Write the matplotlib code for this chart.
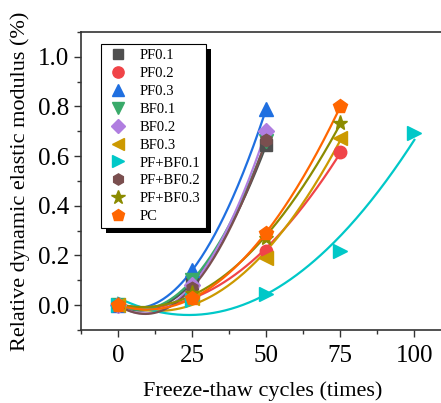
import numpy as np
import matplotlib
matplotlib.use("Agg")
import matplotlib.pyplot as plt
from matplotlib.patches import Rectangle

plt.rcParams['font.family'] = ['Liberation Serif', 'DejaVu Serif']
plt.rcParams['mathtext.fontset'] = 'stix'

labels = ["PF0.1", "PF0.2", "PF0.3", "BF0.1", "BF0.2", "BF0.3",
          "PF+BF0.1", "PF+BF0.2", "PF+BF0.3", "PC"]
x_pf01 = [0, 25, 50];          y_pf01 = [0.0, 0.09, 0.645]
x_pf02 = [0, 25, 50, 75];      y_pf02 = [0.0, 0.04, 0.217, 0.617]
x_pf03 = [0, 25, 50];          y_pf03 = [0.0, 0.14, 0.79]
x_bf01 = [0, 25, 50];          y_bf01 = [0.0, 0.10, 0.66]
x_bf02 = [0, 25, 50];          y_bf02 = [0.0, 0.08, 0.70]
x_bf03 = [0, 25, 50, 75];      y_bf03 = [0.0, 0.03, 0.19, 0.673]
x_pb01 = [0, 25, 50, 75, 100]; y_pb01 = [0.0, 0.02, 0.043, 0.22, 0.695]
x_pb02 = [0, 25, 50];          y_pb02 = [0.0, 0.07, 0.665]
x_pb03 = [0, 25, 50, 75];      y_pb03 = [0.0, 0.05, 0.27, 0.733]
x_pc = [0, 25, 50, 75];        y_pc = [0.0, 0.03, 0.29, 0.80]

xs = [x_pf01, x_pf02, x_pf03, x_bf01, x_bf02, x_bf03, x_pb01, x_pb02, x_pb03, x_pc]
ys = [y_pf01, y_pf02, y_pf03, y_bf01, y_bf02, y_bf03, y_pb01, y_pb02, y_pb03, y_pc]
colors = ["#4f4f4f", "#f04448", "#1f6fe0", "#3aaa6a", "#b07ee0", "#cc9900",
          "#00c8c8", "#7a4f4f", "#8b8b00", "#ff6600"]
markers = ["s", "o", "^", "v", "D", "<", ">", "h", "*", "p"]
msizes = [8, 9, 10, 10, 8, 10, 10, 9, 11, 10]

xticks = [0, 25, 50, 75, 100]
yticks = [0.0, 0.2, 0.4, 0.6, 0.8, 1.0]

fig = plt.figure(figsize=(4.41, 4.03), dpi=100)
ax = fig.add_axes([81/441, 1-330/403, (444-81)/441, (330-32)/403])

for x, y, c in zip(xs, ys, colors):
    coef = np.polyfit(x, y, 2)
    xx = np.linspace(min(x), max(x), 200)
    ax.plot(xx, np.polyval(coef, xx), color=c, lw=1.6, zorder=2)
for x, y, c, m, ms, lab in zip(xs, ys, colors, markers, msizes, labels):
    ax.plot(x, y, linestyle='none', marker=m, ms=ms, color=c, mec=c, label=lab, zorder=3)

ax.set_xlim(-10, 110)
ax.set_ylim(-0.1, 1.1)
ax.set_xticks(xticks)
ax.set_xticklabels([str(t) for t in xticks])
ax.set_yticks(yticks)
ax.set_yticklabels([f"{t:.1f}" for t in yticks])
ax.set_xticks(np.arange(-12.5, 111, 12.5), minor=True)
ax.set_yticks(np.arange(-0.1, 1.11, 0.1), minor=True)
ax.tick_params(axis='both', which='major', direction='out', length=5, width=1, labelsize=18, color='#333333')
ax.tick_params(axis='both', which='minor', direction='out', length=3, width=1, color='#333333')
ax.tick_params(axis='x', pad=6)
for s in ['left', 'bottom', 'top', 'right']:
    ax.spines[s].set_color('#333333')
    ax.spines[s].set_linewidth(1.2)

ax.set_xlabel("Freeze-thaw cycles (times)", fontsize=16, labelpad=10)
ax.set_ylabel("Relative dynamic elastic modulus (%)", fontsize=16, labelpad=6)

leg = ax.legend(loc='upper left', bbox_to_anchor=(20/363, 1-12/298), borderaxespad=0,
                fontsize=10.5, frameon=True, fancybox=False, edgecolor='black', framealpha=1,
                handletextpad=0.7, labelspacing=0.32, borderpad=0.35, handlelength=1.6,
                markerscale=0.9)
leg.get_frame().set_linewidth(0.8)
leg.set_zorder(6)

fig.canvas.draw()
bb = leg.get_window_extent().transformed(fig.transFigure.inverted())
dx, dy = 5/441, 5/403
shadow = Rectangle((bb.x0 + dx, bb.y0 - dy), bb.width, bb.height, transform=fig.transFigure,
                   facecolor='black', edgecolor='none', zorder=5, clip_on=False)
ax.add_artist(shadow)

fig.savefig("out.png", dpi=100)
